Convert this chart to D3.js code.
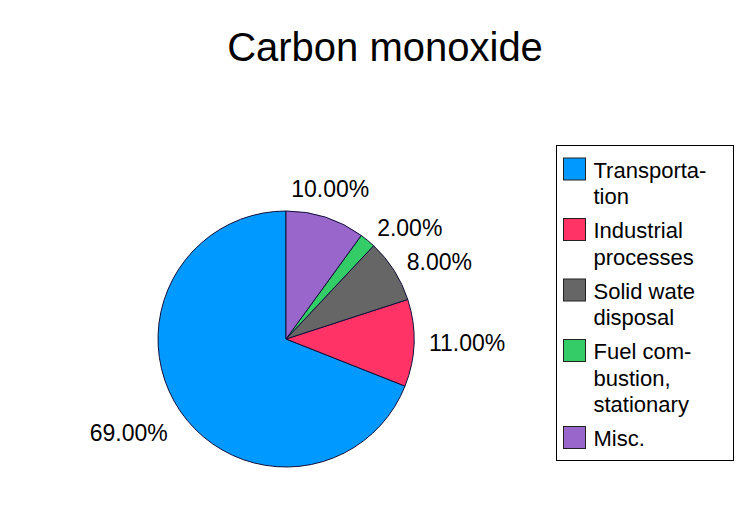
<!DOCTYPE html>
<html>
<head>
<meta charset="utf-8">
<script src="https://cdn.jsdelivr.net/npm/d3@7"></script>
<style>
  html, body { margin: 0; padding: 0; background: #fff; }
  svg { display: block; }
  text { font-family: "Liberation Sans", Arial, Helvetica, sans-serif; fill: #000; }
</style>
</head>
<body>
<svg id="chart" width="744" height="514"></svg>
<script>
const title = "Carbon monoxide";
const categories = ["Transportation", "Industrial processes", "Solid wate disposal", "Fuel combustion, stationary", "Misc."];
const legendLines = [["Transporta-", "tion"], ["Industrial", "processes"], ["Solid wate", "disposal"], ["Fuel com-", "bustion,", "stationary"], ["Misc."]];
const values = [69, 11, 8, 2, 10];
const colors = ["#0099ff", "#ff3366", "#666666", "#33cc66", "#9966cc"];

const svg = d3.select("#chart");

svg.append("text")
  .attr("x", 385).attr("y", 61)
  .attr("text-anchor", "middle")
  .style("font-size", "40px")
  .text(title);

const cx = 286, cy = 339, r = 128;
const total = d3.sum(values);
const fmt = v => (v / total * 100).toFixed(2) + "%";

// counterclockwise from 12 o'clock
const pie = d3.pie().sort(null).value(d => d)
  .startAngle(2 * Math.PI).endAngle(0);
const arcs = pie(values);
const arc = d3.arc().innerRadius(0).outerRadius(r);

const g = svg.append("g").attr("transform", `translate(${cx},${cy})`);
g.selectAll("path").data(arcs).join("path")
  .attr("d", arc)
  .attr("fill", (d, i) => colors[i])
  .attr("stroke", "#10103a")
  .attr("stroke-width", 1);

const labelR = 143;
const fs = 23;
g.selectAll("text.lbl").data(arcs).join("text")
  .attr("class", "lbl")
  .style("font-size", fs + "px")
  .each(function(d) {
    const a = (d.startAngle + d.endAngle) / 2;
    const s = Math.sin(a), c = Math.cos(a);
    const px = labelR * s, py = -labelR * c;
    const anchor = s > 0.5 ? "start" : (s < -0.5 ? "end" : "middle");
    let y;
    if (c > 0.85) y = py - 0.25 * fs;
    else if (c < -0.5) y = py + 0.95 * fs;
    else y = py + 0.33 * fs;
    d3.select(this)
      .attr("x", px).attr("y", y)
      .attr("text-anchor", anchor)
      .text(fmt(d.data));
  });

// Legend
const lx = 556.5, ly = 145.5, lw = 177, lh = 315;
const leg = svg.append("g");
leg.append("rect")
  .attr("x", lx).attr("y", ly).attr("width", lw).attr("height", lh)
  .attr("fill", "#fff").attr("stroke", "#000").attr("stroke-width", 1);

const lfs = 22, lineH = 26.5, gap = 7.5;
let yCur = ly + 12.5;
legendLines.forEach((lines, i) => {
  leg.append("rect")
    .attr("x", lx + 7).attr("y", yCur)
    .attr("width", 22).attr("height", 22)
    .attr("fill", colors[i]).attr("stroke", "#222").attr("stroke-width", 1);
  const t = leg.append("text")
    .attr("x", lx + 37).attr("y", yCur + 19.5)
    .style("font-size", lfs + "px");
  lines.forEach((ln, j) => {
    t.append("tspan").attr("x", lx + 37).attr("dy", j === 0 ? 0 : lineH).text(ln);
  });
  yCur += lines.length * lineH + gap;
});
</script>
</body>
</html>
